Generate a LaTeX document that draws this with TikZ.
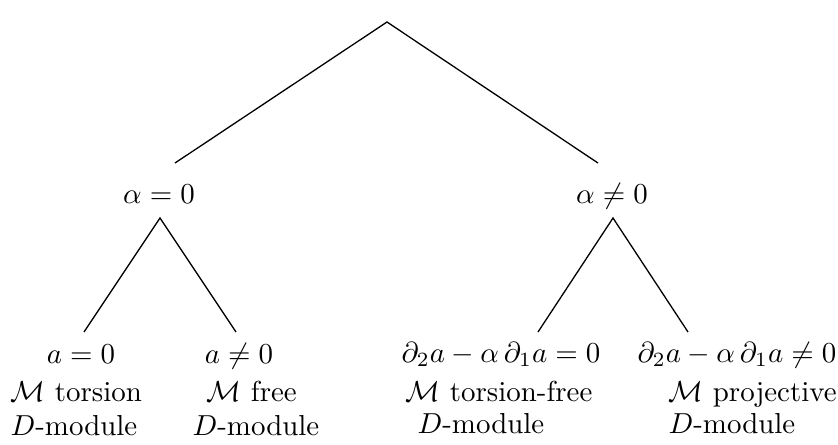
\documentclass[tikz,border=0pt]{standalone}
\usepackage{amsmath}
\usepackage{tikz}

\begin{document}
\begin{tikzpicture}[
  x=0.346pt, y=-0.346pt,
  cond/.style={anchor=base, inner sep=0pt},
  desc/.style={anchor=base west, inner sep=0pt},
  branch/.style={line width=0.45pt}
]
  \useasboundingbox (0,0) rectangle (838,444);
  % first split on alpha
  \coordinate (root) at (387,22);
  \coordinate (root-l) at (175,163);
  \coordinate (root-r) at (598,163);
  \node[cond] (zero) at (159,203) {$\alpha = 0$};
  \node[cond] (nonzero) at (612,203) {$\alpha \neq 0$};
  \draw[branch] (root-l) -- (root) -- (root-r);
  % alpha = 0
  \coordinate (zero-top) at (160,218);
  \coordinate (zero-l) at (84,332);
  \coordinate (zero-r) at (236,332);
  \draw[branch] (zero-l) -- (zero-top) -- (zero-r);
  \node[cond] (aeq) at (81,363) {$a = 0$};
  \node[desc] (aeq-kind) at (10,401) {$\mathcal{M}$ torsion};
  \node[desc] (aeq-mod) at (10,435) {$D$-module};
  \node[cond] (aneq) at (239,363) {$a \neq 0$};
  \node[desc] (aneq-kind) at (206,401) {$\mathcal{M}$ free};
  \node[desc] (aneq-mod) at (192,435) {$D$-module};
  % alpha <> 0
  \coordinate (nonzero-top) at (613,218);
  \coordinate (nonzero-l) at (538,332);
  \coordinate (nonzero-r) at (688,332);
  \draw[branch] (nonzero-l) -- (nonzero-top) -- (nonzero-r);
  \node[cond] (deq) at (501,362) {$\partial_2 a - \alpha\,\partial_1 a = 0$};
  \node[desc] (deq-kind) at (405,401) {$\mathcal{M}$ torsion-free};
  \node[desc] (deq-mod) at (417,433) {$D$-module};
  \node[cond] (dneq) at (737,362) {$\partial_2 a - \alpha\,\partial_1 a \neq 0$};
  \node[desc] (dneq-kind) at (668,401) {$\mathcal{M}$ projective};
  \node[desc] (dneq-mod) at (668,433) {$D$-module};
\end{tikzpicture}
\end{document}
